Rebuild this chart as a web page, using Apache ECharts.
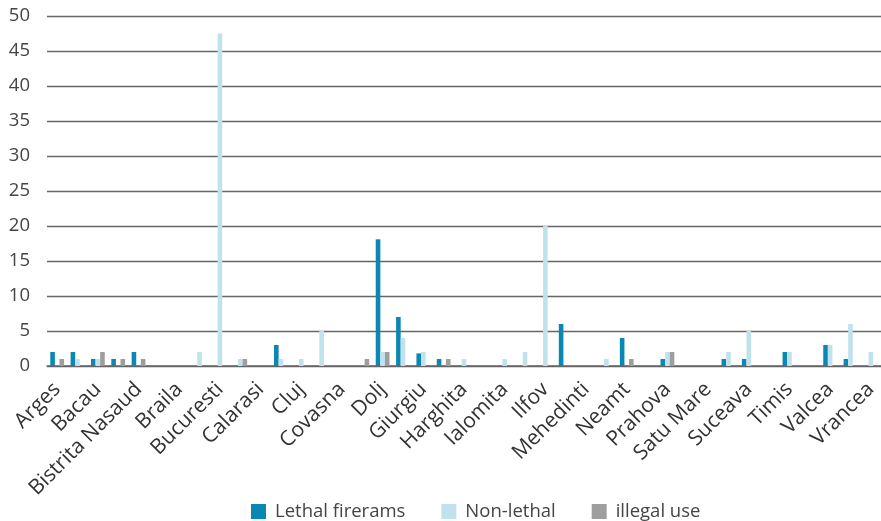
<!DOCTYPE html>
<html>
<head>
<meta charset="utf-8">
<script src="https://cdn.jsdelivr.net/npm/echarts@6/dist/echarts.min.js"></script>
<style>
html,body{margin:0;padding:0;background:#fff;}
#chart{width:881px;height:521px;}
</style>
</head>
<body>
<div id="chart"></div>
<script>
const categories = ["Arges","Arad","Bacau","Bihor","Bistrita Nasaud","Botosani","Braila","Brasov","Bucuresti","Buzau","Calarasi","Caras Severin","Cluj","Constanta","Covasna","Dambovita","Dolj","Galati","Giurgiu","Gorj","Harghita","Hunedoara","Ialomita","Iasi","Ilfov","Maramures","Mehedinti","Mures","Neamt","Olt","Prahova","Salaj","Satu Mare","Sibiu","Suceava","Teleorman","Timis","Tulcea","Valcea","Vaslui","Vrancea"];
const lethal    = [2,2,1,1,2,0,0,0,0,0,0,3,0,0,0,0,18.1,7,1.8,1,0,0,0,0,0,6,0,0,4,0,1,0,0,1,1,0,2,0,3,1,0];
const nonLethal = [0,1,1,0,0,0,0,2,47.5,1,0,1,1,5,0,0,2,4,2,0,1,0,1,2,20,0,0,1,0,0,2,0,0,2,5,0,2,0,3,6,2];
const illegal   = [1,0,2,1,1,0,0,0,0,1,0,0,0,0,0,1,2,0,0,1,0,0,0,0,0,0,0,0,1,0,2,0,0,0,0,0,0,0,0,0,0];
const seriesNames = ["Lethal firerams","Non-lethal","illegal use"];
const yTicks = {min:0, max:50, interval:5};

const chart = echarts.init(document.getElementById('chart'), null, {renderer:'canvas'});
const font = 'Open Sans';
const colors = ['#0a88b3','#c0e2ed','#9e9e9e'];
const mk = (name, data, i) => ({
  name, type:'bar', data, barWidth:4.6, barGap:'0%',
  itemStyle:{color:colors[i]}, emphasis:{disabled:true}
});
chart.setOption({
  animation:false,
  textStyle:{fontFamily:font},
  grid:{left:47, right:0, top:16, bottom:155, containLabel:false},
  legend:{
    top:497, left:246, itemWidth:15, itemHeight:15, itemGap:36,
    icon:'rect',
    textStyle:{fontFamily:font, fontSize:18.5, color:'#444', padding:[0,0,0,4]},
    data:seriesNames
  },
  xAxis:{
    type:'category', data:categories,
    axisLine:{lineStyle:{color:'#666', width:1.5}},
    axisTick:{show:false},
    axisLabel:{interval:1, rotate:45, fontFamily:font, fontSize:21, color:'#333', margin:20}
  },
  yAxis:{
    type:'value', min:yTicks.min, max:yTicks.max, interval:yTicks.interval,
    axisLine:{show:false}, axisTick:{show:false},
    axisLabel:{fontFamily:font, fontSize:18.5, color:'#444', margin:17},
    splitLine:{lineStyle:{color:'#666', width:1.3}}
  },
  series:[mk(seriesNames[0], lethal, 0), mk(seriesNames[1], nonLethal, 1), mk(seriesNames[2], illegal, 2)]
});
</script>
</body>
</html>
